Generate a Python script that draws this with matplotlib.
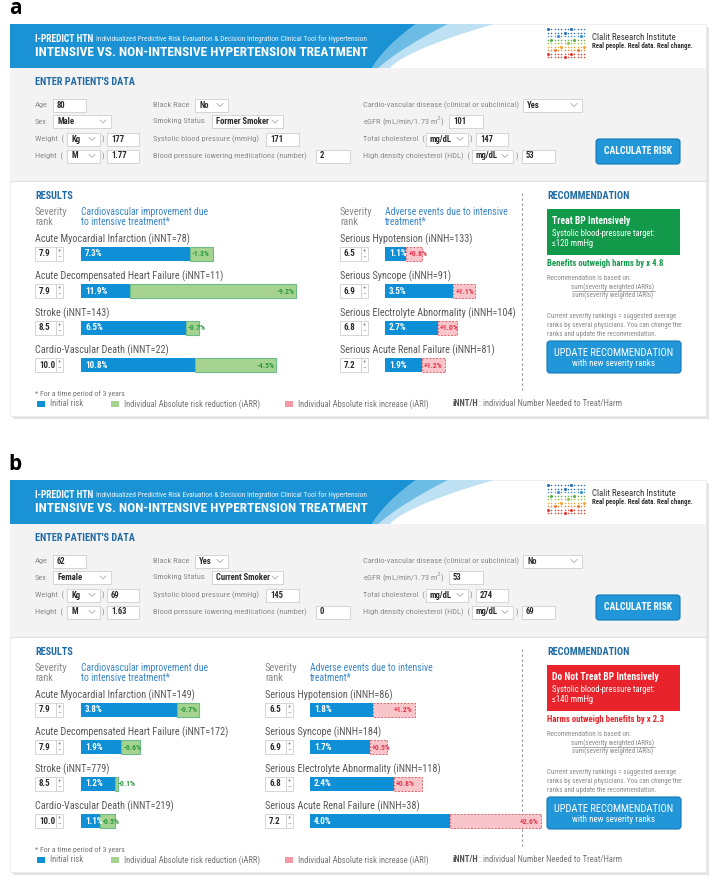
import matplotlib
matplotlib.use("Agg")
import matplotlib.pyplot as plt
from matplotlib import font_manager
from matplotlib.patches import Rectangle, FancyBboxPatch, Polygon
import numpy as np

W, H = 716, 881

"""Font: a narrow sans if one is installed, else Roboto"""
installed = {f.name for f in font_manager.fontManager.ttflist}
FONT = "Roboto"
for cand in ["Liberation Sans Narrow", "Roboto Condensed", "DejaVu Sans Condensed",
             "Open Sans Condensed", "Noto Sans Condensed"]:
    if cand in installed:
        FONT = cand
        break
plt.rcParams["font.family"] = [FONT, "DejaVu Sans"]

"""Chart data"""
panel_labels = ["a", "b"]
cardio_events = ["Acute Myocardial Infarction", "Acute Decompensated Heart Failure",
                 "Stroke", "Cardio-Vascular Death"]
adverse_events = ["Serious Hypotension", "Serious Syncope",
                  "Serious Electrolyte Abnormality", "Serious Acute Renal Failure"]
cardio_severity = [7.9, 7.9, 8.5, 10.0]
adverse_severity = [6.5, 6.9, 6.8, 7.2]

a_patient = ["80", "Male", "177", "1.77", "No", "Former Smoker", "171", "2",
             "Yes", "101", "147", "53"]
a_cardio_risk = [7.3, 11.9, 6.5, 10.8]
a_cardio_arr = [1.3, 9.2, 0.7, 4.5]
a_cardio_innt = [78, 11, 143, 22]
a_adverse_risk = [1.1, 3.5, 2.7, 1.9]
a_adverse_ari = [0.8, 1.1, 1.0, 1.2]
a_adverse_innh = [133, 91, 104, 81]

b_patient = ["62", "Female", "69", "1.63", "Yes", "Current Smoker", "145", "0",
             "No", "53", "274", "69"]
b_cardio_risk = [3.8, 1.9, 1.2, 1.1]
b_cardio_arr = [0.7, 0.6, 0.1, 0.5]
b_cardio_innt = [149, 172, 779, 219]
b_adverse_risk = [1.8, 1.7, 2.4, 4.0]
b_adverse_ari = [1.2, 0.5, 0.8, 2.6]
b_adverse_innh = [86, 184, 118, 38]

rec_titles = ["Treat BP Intensively", "Do Not Treat BP Intensively"]
rec_targets = ["\u2264120 mmHg", "\u2264140 mmHg"]
rec_verdicts = ["Benefits outweigh harms by x 4.8", "Harms outweigh benefits by x 2.3"]

"""Colours"""
HEAD_BLUE = "#1a92d4"
SEC_BLUE = "#1f6aa5"
SUB_BLUE = "#3a86c8"
GRAY = "#8c8c8c"
DARK = "#2b2b2b"
EVENT = "#595959"
BAR_BLUE = "#0f8fd5"
GREEN_FILL = "#a7d391"
GREEN_EDGE = "#6dbb8a"
GREEN_TXT = "#2a9a3e"
PINK_FILL = "#f7c5ca"
RED_EDGE = "#e4606a"
RED_TXT = "#e63a4f"
REC_GREEN = "#12994a"
REC_RED = "#e8232b"
BTN = "#2196d9"

fig = plt.figure(figsize=(W / 100, H / 100), dpi=100)
ax = fig.add_axes([0, 0, 1, 1])
ax.set_xlim(0, W)
ax.set_ylim(H, 0)
ax.axis("off")
renderer = fig.canvas.get_renderer()


def fit(s, width_px, weight="normal"):
    """Font size (pt) giving the text the wanted width in pixels."""
    t = ax.text(0, 0, s, fontsize=10, fontweight=weight)
    w = t.get_window_extent(renderer).width
    t.remove()
    return 10 * width_px / w


def txt(x, y, s, size, color=DARK, weight="normal", ha="left", va="center", **kw):
    return ax.text(x, y, s, fontsize=size, color=color, fontweight=weight,
                   ha=ha, va=va, **kw)


def width_of(t):
    return t.get_window_extent(renderer).width


def box(x0, y0, x1, y1, fc, ec="none", lw=0.6, ls="-", z=1, rounded=0):
    if rounded:
        p = FancyBboxPatch((x0, y0), x1 - x0, y1 - y0,
                           boxstyle=f"round,pad=0,rounding_size={rounded}",
                           fc=fc, ec=ec, lw=lw, ls=ls, zorder=z)
    else:
        p = Rectangle((x0, y0), x1 - x0, y1 - y0, fc=fc, ec=ec, lw=lw, ls=ls, zorder=z)
    ax.add_patch(p)


S_label = fit("Cardio-vascular disease (clinical or subclinical)", 155)
S_value = fit("Former Smoker", 53, "bold")
S_head = fit("ENTER PATIENT'S DATA", 100, "bold")
S_sev = fit("Severity", 31) * 1.05
S_subhead = fit("Cardiovascular improvement due", 126)
S_event = fit("Acute Myocardial Infarction (iNNT=78)", 143) * 1.08
S_pct = fit("7.3%", 18, "bold")
S_rec_title = fit("Treat BP Intensively", 78, "bold")
S_rec_txt = fit("Systolic blood-pressure target:", 103)
S_verdict = fit("Benefits outweigh harms by x 4.8", 117, "bold")
S_tiny = fit("Current severity rankings = suggested average", 127)
S_btn = fit("UPDATE RECOMMENDATION", 121)
S_btn2 = fit("with new severity ranks", 82)
S_calc = fit("CALCULATE RISK", 69, "bold")
S_legend = fit("Individual Absolute risk reduction (iARR)", 136)
S_title = fit("INTENSIVE VS. NON-INTENSIVE HYPERTENSION TREATMENT", 332, "bold")
S_sub = fit("Individualized Predictive Risk Evaluation & Decision Integration "
            "Clinical Tool for Hypertension", 269)
S_ipredict = fit("I-PREDICT HTN", 59, "bold")
S_clalit = fit("Clalit Research Institute", 83)
S_real = fit("Real people. Real data. Real change.", 101, "bold")


def field(x0, x1, y, value, drop=False):
    box(x0, y - 6.5, x1, y + 6.5, "white", "#cfcfcf", lw=0.6, z=2)
    txt(x0 + 4, y, value, S_value, DARK, "bold", zorder=3)
    if drop:
        cx = x1 - 8
        ax.plot([cx - 3, cx, cx + 3], [y - 1.5, y + 1.5, y - 1.5], color="#aaaaaa",
                lw=0.6, zorder=3)


def draw_header(oy):
    box(13, oy + 27, 709, oy + 419, "#e4e4e4", z=0)
    box(10, oy + 24, 706, oy + 416, "white", "#e8e8e8", lw=0.5, z=0.5)
    # blue banner with curved right edge
    t = np.linspace(0, 1, 30)
    ex = (1 - t) ** 2 * 416 + 2 * (1 - t) * t * 385 + t ** 2 * 372
    ey = oy + 24 + 44 * t
    ax.add_patch(Polygon(np.c_[np.r_[ex + 60 * (1 - t) ** 1.5 + 18, ex[::-1]],
                               np.r_[ey, ey[::-1]]], closed=True,
                         fc="#bfe1f4", ec="none", zorder=1))
    ax.add_patch(Polygon(np.c_[np.r_[ex + 26 * (1 - t) + 6, ex[::-1]],
                               np.r_[ey, ey[::-1]]], closed=True,
                         fc="#6cbce6", ec="none", zorder=1))
    ax.add_patch(Polygon(np.c_[np.r_[10, ex, 10], np.r_[oy + 24, ey, oy + 68]],
                         closed=True, fc=HEAD_BLUE, ec="none", zorder=1))
    t1 = txt(35, oy + 39, "I-PREDICT HTN", S_ipredict, "white", "bold", zorder=2)
    txt(35 + width_of(t1) + 3, oy + 39.5,
        "Individualized Predictive Risk Evaluation & Decision Integration "
        "Clinical Tool for Hypertension", S_sub, "#e8f4fb", zorder=2)
    txt(35, oy + 53, "INTENSIVE VS. NON-INTENSIVE HYPERTENSION TREATMENT", S_title,
        "white", "bold", zorder=2)
    # logo dots
    row_cols = ["#2a6fb8", "#2a6fb8", "#3b8fd0", "#5fb04a", "#9cc43c", "#f4a531",
                "#f07c2a", "#e33b2e", "#e33b2e"]
    for r, c in enumerate(row_cols):
        for k in range(12):
            big = (k * 5 + r * 3) % 7 == 0
            ax.scatter(548 + k * 3.3, oy + 29 + r * 3.5, s=5 if big else 1.2, color=c,
                       lw=0, zorder=2)
    txt(592, oy + 37, "Clalit Research Institute", S_clalit, "#333333", zorder=2)
    txt(592, oy + 46, "Real people. Real data. Real change.", S_real, "#333333",
        "bold", zorder=2)


def draw_form(oy, vals):
    age, sex, weight, height, race, smoking, sbp, meds, cvd, egfr, chol, hdl = vals
    box(10, oy + 68, 706, oy + 181, "#f3f3f3", z=0.8)
    ax.plot([10, 706], [oy + 181, oy + 181], color="#e2e2e2", lw=0.8, zorder=1)
    txt(35, oy + 82, "ENTER PATIENT'S DATA", S_head, SEC_BLUE, "bold", zorder=2)
    r1, r2, r3, r4 = oy + 105, oy + 121.5, oy + 139, oy + 156
    txt(35, r1, "Age", S_label, GRAY)
    field(53, 86, r1, age)
    txt(35, r2, "Sex", S_label, GRAY)
    field(53, 111, r2, sex, drop=True)
    txt(35, r3, "Weight  (", S_label, GRAY)
    field(67, 100, r3, "Kg", drop=True)
    txt(102, r3, ")", S_label, GRAY)
    field(107, 139, r3, weight)
    txt(35, r4, "Height  (", S_label, GRAY)
    field(67, 100, r4, "M", drop=True)
    txt(102, r4, ")", S_label, GRAY)
    field(107, 139, r4, height)

    txt(153, r1, "Black Race", S_label, GRAY)
    field(195, 228, r1, race, drop=True)
    txt(153, r2, "Smoking Status", S_label, GRAY)
    field(212, 283, r2, smoking, drop=True)
    txt(153, r3, "Systolic blood pressure (mmHg)", S_label, GRAY)
    field(266, 299, r3, sbp)
    txt(153, r4, "Blood pressure lowering medications (number)", S_label, GRAY)
    field(316, 350, r4, meds)

    txt(363, r1, "Cardio-vascular disease (clinical or subclinical)", S_label, GRAY)
    field(523, 582, r1, cvd, drop=True)
    txt(363, r2, "eGFR (mL/min/1.73 m$^2$)", S_label, GRAY)
    field(449, 483, r2, egfr)
    txt(363, r3, "Total cholesterol  (", S_label, GRAY)
    field(426, 468, r3, "mg/dL", drop=True)
    txt(470, r3, ")", S_label, GRAY)
    field(476, 508, r3, chol)
    txt(363, r4, "High density cholesterol (HDL)  (", S_label, GRAY)
    field(472, 513, r4, "mg/dL", drop=True)
    txt(516, r4, ")", S_label, GRAY)
    field(522, 555, r4, hdl)

    box(596, oy + 139, 680, oy + 164, BTN, "#1479b6", lw=0.8, z=2, rounded=3)
    txt(638, oy + 151.5, "CALCULATE RISK", S_calc, "white", "bold", ha="center", zorder=3)


def spinbox(x, y, value):
    box(x, y - 7, x + 21, y + 7, "white", "#cfcfcf", z=2)
    box(x + 21, y - 7, x + 28, y + 7, "white", "#cfcfcf", z=2)
    txt(x + 4, y, f"{value:.1f}", S_value * 1.05, DARK, "bold", zorder=3)
    txt(x + 24.5, y - 3, "+", S_label * 0.8, GRAY, ha="center", zorder=3)
    txt(x + 24.5, y + 3.5, "\u2013", S_label * 0.8, GRAY, ha="center", zorder=3)


def bar_axes(x0, y0, scale, wpx=260):
    a = fig.add_axes([x0 / W, 1 - (y0 + 148) / H, wpx / W, 148 / H])
    a.set_xlim(0, wpx / scale)
    a.set_ylim(3.5, -0.5)
    a.axis("off")
    return a


def draw_results(oy, c_risk, c_arr, c_innt, a_risk, a_ari, a_innh, adv_x, c_scale, a_scale):
    rows = np.arange(4)
    txt(35, oy + 196, "RESULTS", S_head, SEC_BLUE, "bold")
    for sx, bx, head in [(35, 81, ["Cardiovascular improvement due", "to intensive treatment*"]),
                         (adv_x, adv_x + 45, ["Adverse events due to intensive", "treatment*"])]:
        txt(sx, oy + 212, "Severity", S_sev, "#8a8a8a")
        txt(sx, oy + 222, "rank", S_sev, "#8a8a8a")
        txt(bx, oy + 212, head[0], S_subhead, SUB_BLUE)
        txt(bx, oy + 222, head[1], S_subhead, SUB_BLUE)
    ry = oy + 254 + 37 * rows
    for i in rows:
        txt(35, ry[i] - 15, f"{cardio_events[i]} (iNNT={c_innt[i]})", S_event, EVENT)
        spinbox(35, ry[i], cardio_severity[i])
        txt(adv_x, ry[i] - 15, f"{adverse_events[i]} (iNNH={a_innh[i]})", S_event, EVENT)
        spinbox(adv_x, ry[i], adverse_severity[i])

    # cardiovascular benefit bars
    ca = bar_axes(81, oy + 235.5, c_scale)
    risk = np.array(c_risk)
    arr = np.array(c_arr)
    base = risk - arr
    ca.barh(rows, base, height=0.38, color=BAR_BLUE, lw=0)
    ca.barh(rows, arr, left=base, height=0.38, color=GREEN_FILL, edgecolor=GREEN_EDGE, lw=0.8)
    for i in rows:
        ca.text(4 / c_scale, i, f"{risk[i]}%", fontsize=S_pct, color="white",
                fontweight="bold", va="center")
        if arr[i] * c_scale > 26:
            ca.text(risk[i] - 2 / c_scale, i, f"-{arr[i]}%", fontsize=S_pct * 0.85,
                    color=GREEN_TXT, fontweight="bold", va="center", ha="right")
        else:
            ca.text(base[i] + 2 / c_scale, i, f"-{arr[i]}%", fontsize=S_pct * 0.85,
                    color=GREEN_TXT, fontweight="bold", va="center", ha="left")

    # adverse event bars
    aa = bar_axes(adv_x + 45, oy + 235.5, a_scale)
    arisk = np.array(a_risk)
    ari = np.array(a_ari)
    aa.barh(rows, arisk, height=0.38, color=BAR_BLUE, lw=0)
    aa.barh(rows, ari, left=arisk, height=0.38, color=PINK_FILL, edgecolor=RED_EDGE,
            lw=0.7, ls=(0, (2, 1.5)))
    for i in rows:
        aa.text(4 / a_scale, i, f"{arisk[i]}%", fontsize=S_pct, color="white",
                fontweight="bold", va="center")
        if ari[i] * a_scale > 40:
            aa.text(arisk[i] + ari[i] - 3 / a_scale, i, f"+{ari[i]}%", fontsize=S_pct * 0.85,
                    color=RED_TXT, fontweight="bold", va="center", ha="right")
        else:
            aa.text(arisk[i] + 2 / a_scale, i, f"+{ari[i]}%", fontsize=S_pct * 0.85,
                    color=RED_TXT, fontweight="bold", va="center", ha="left")

    ax.plot([522, 522], [oy + 193, oy + 390], color="#8f8f8f", lw=0.8, ls=(0, (2, 2.5)))

    # footnote and legend
    txt(35, oy + 394, "* For a time period of 3 years", S_legend * 0.92, "#777777")
    ly = oy + 404
    for x0, fc, label in [(37, BAR_BLUE, "Initial risk"),
                          (111, GREEN_FILL, "Individual Absolute risk reduction (iARR)"),
                          (285, "#f39aa4", "Individual Absolute risk increase (iARI)")]:
        box(x0, ly - 3, x0 + 8, ly + 3, fc, z=2)
        txt(x0 + 13, ly, label, S_legend, "#777777")
    tb = txt(453, ly, "iNNT/H", S_legend, "#555555", "bold")
    txt(453 + width_of(tb), ly, ": individual Number Needed to Treat/Harm", S_legend, "#777777")


def draw_recommendation(oy, k):
    fc = REC_GREEN if k == 0 else REC_RED
    txt(547, oy + 196, "RECOMMENDATION", S_head, SEC_BLUE, "bold")
    box(547, oy + 209, 680, oy + 255, fc, z=2)
    txt(552, oy + 221, rec_titles[k], S_rec_title, "white", "bold", zorder=3)
    txt(552, oy + 233, "Systolic blood-pressure target:", S_rec_txt, "white", zorder=3)
    txt(552, oy + 243.5, rec_targets[k], S_rec_txt, "white", zorder=3)
    txt(547, oy + 264, rec_verdicts[k], S_verdict, fc, "bold")
    txt(547, oy + 279, "Recommendation is based on:", S_tiny, "#8a8a8a")
    txt(613, oy + 287, "sum(severity weighted iARRs)", S_tiny, "#8a8a8a", ha="center")
    ax.plot([572, 655], [oy + 290.5, oy + 290.5], color="#8a8a8a", lw=0.5)
    txt(613, oy + 295, "sum(severity weighted iARIs)", S_tiny, "#8a8a8a", ha="center")
    for j, line in enumerate(["Current severity rankings = suggested average",
                              "ranks by several physicians. You can change the",
                              "ranks and update the recommendation."]):
        txt(547, oy + 317 + 8.6 * j, line, S_tiny, "#8a8a8a")
    box(547, oy + 341, 681, oy + 373, BTN, "#1479b6", lw=0.8, z=2, rounded=3)
    txt(614, oy + 353, "UPDATE RECOMMENDATION", S_btn, "white", ha="center", zorder=3)
    txt(614, oy + 364, "with new severity ranks", S_btn2, "white", ha="center", zorder=3)


panels = [
    (0, a_patient, a_cardio_risk, a_cardio_arr, a_cardio_innt,
     a_adverse_risk, a_adverse_ari, a_adverse_innh, 340, 18.1, 19.5),
    (456, b_patient, b_cardio_risk, b_cardio_arr, b_cardio_innt,
     b_adverse_risk, b_adverse_ari, b_adverse_innh, 265, 31.0, 35.0),
]

for k, (oy, pat, cr, carr, cn, ar, aari, an, adv_x, cs, ascale) in enumerate(panels):
    ax.text(15, oy + 9, panel_labels[k], fontsize=15, fontweight="bold", color="black",
            ha="center", va="center", family=["Open Sans", "DejaVu Sans"])
    draw_header(oy)
    draw_form(oy, pat)
    draw_results(oy, cr, carr, cn, ar, aari, an, adv_x, cs, ascale)
    draw_recommendation(oy, k)

fig.savefig("out.png", dpi=100, facecolor="white")
